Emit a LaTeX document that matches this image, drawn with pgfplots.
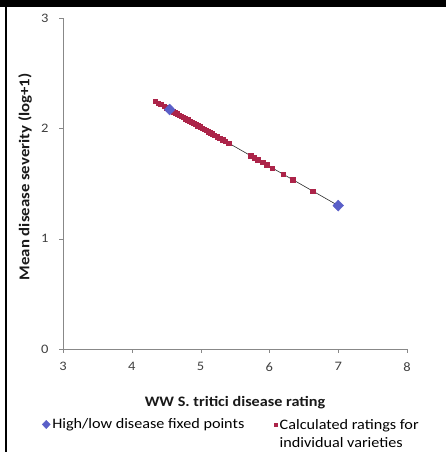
\documentclass[border=0pt]{standalone}
\usepackage{pgfplots}
\pgfplotsset{compat=1.18}
\usepackage{fontspec}
\setmainfont{Carlito}
\newfontfamily\widefont{Carlito}[FakeStretch=1.12]
\definecolor{fixblue}{HTML}{5A5FC8}
\definecolor{varred}{HTML}{AC2449}
\definecolor{axgray}{HTML}{888888}

\begin{document}
\begin{tikzpicture}[x=1bp,y=1bp]
\useasboundingbox (0,0) rectangle (446,452);
\fill[black] (0,445) rectangle (446,452);
\fill[black] (5,0) rectangle (7,452);
\begin{axis}[
    at={(63bp,103bp)}, anchor=south west,
    scale only axis,
    width=344bp, height=331bp,
    xmin=3, xmax=8, ymin=0, ymax=3,
    xtick={3,...,8}, ytick={0,...,3},
    axis lines=left,
    axis line style={axgray, -},
    tick style={axgray},
    tick align=outside,
    major tick length=4bp,
    /pgf/number format/assume math mode=true,
    tick label style={font=\widefont\fontsize{13}{15}\selectfont, text=black!75},
    xticklabel style={yshift=-6bp},
    yticklabel style={xshift=-7bp},
    xlabel={\textbf{WW S. tritici disease rating}},
    ylabel={\textbf{Mean disease severity (log+1)}},
    xlabel style={font=\widefont\fontsize{14.5}{16}\selectfont, text=black!90,
        at={(axis description cs:0.5,-0.163)}, anchor=center},
    ylabel style={font=\widefont\fontsize{15}{16}\selectfont, text=black!90,
        at={(axis description cs:-0.11,0.52)}, anchor=center},
    legend columns=2,
    legend style={draw=none, inner sep=0pt,
        at={(axis description cs:-0.061,-0.2)}, anchor=north west,
        font=\widefont\fontsize{14.5}{18}\selectfont, cells={anchor=west},
        /tikz/every even column/.append style={column sep=28bp}},
    legend image code/.code={\draw[#1, /tikz/every mark/.append style={scale=0.75}] plot coordinates {(0bp,0bp)};},
]
% trend line
\addplot[black!85, line width=0.6pt, forget plot] coordinates {(4.34,2.245) (7.0,1.30)};
% varieties
\addplot[only marks, mark=square*, mark size=2.2bp, color=varred, forget plot] coordinates {
(4.34,2.245) (4.38,2.230) (4.42,2.216) (4.47,2.198) (4.50,2.188) (4.53,2.177)
(4.57,2.163) (4.60,2.152) (4.63,2.142) (4.66,2.131) (4.69,2.120) (4.72,2.110)
(4.75,2.099) (4.78,2.088) (4.81,2.078) (4.84,2.067) (4.87,2.056) (4.90,2.046)
(4.93,2.035) (4.96,2.024) (4.99,2.014) (5.02,2.003) (5.05,1.992) (5.08,1.982)
(5.11,1.971) (5.14,1.960) (5.17,1.950) (5.20,1.939) (5.24,1.925) (5.28,1.911)
(5.32,1.897) (5.36,1.882) (5.41,1.865)
(5.73,1.751) (5.78,1.733) (5.83,1.715) (5.90,1.691) (5.96,1.669) (6.04,1.641)
(6.20,1.584) (6.34,1.534) (6.63,1.431)
};
% fixed points
\addplot[only marks, mark=diamond*, mark size=5.5bp, mark options={xscale=1.3}, color=fixblue] coordinates {
(4.55,2.17) (7.0,1.30)
};
\addlegendentry{High/low disease fixed points}
\addlegendimage{only marks, mark=square*, mark size=2.2bp, color=varred}
\addlegendentry{\raisebox{0pt}[\height][0pt]{\begin{tabular}[t]{@{}l@{}}Calculated ratings for\\individual varieties\end{tabular}}}
\end{axis}
\end{tikzpicture}
\end{document}
